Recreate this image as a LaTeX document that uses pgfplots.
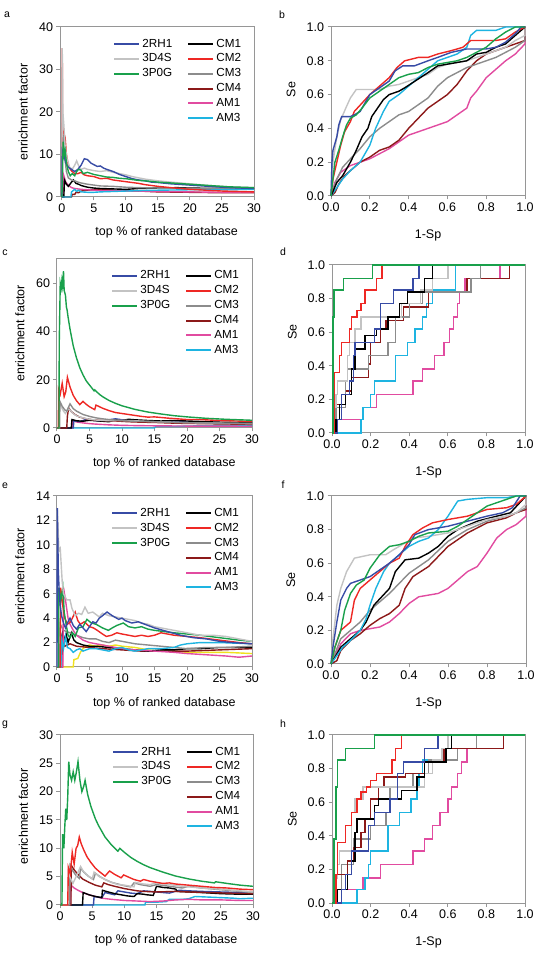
\documentclass[border=0pt]{standalone}
\usepackage{pgfplots}
\pgfplotsset{compat=1.18}
\usepackage{fontspec}
\setmainfont{Liberation Sans}
\definecolor{c2rh1}{RGB}{55,75,165}
\definecolor{c3d4s}{RGB}{195,195,195}
\definecolor{c3p0g}{RGB}{25,160,75}
\definecolor{ccm1}{RGB}{0,0,0}
\definecolor{ccm2}{RGB}{238,40,36}
\definecolor{ccm3}{RGB}{140,140,140}
\definecolor{ccm4}{RGB}{140,25,25}
\definecolor{cam1}{RGB}{225,75,160}
\definecolor{cam3}{RGB}{30,180,225}
\definecolor{cyel}{RGB}{240,225,30}
\definecolor{axgray}{RGB}{150,150,150}
\tikzset{
 s2rh1/.style={draw=c2rh1,line width=1.4pt},
 s3d4s/.style={draw=c3d4s,line width=1.4pt},
 s3p0g/.style={draw=c3p0g,line width=1.4pt},
 scm1/.style={draw=ccm1,line width=1.4pt},
 scm2/.style={draw=ccm2,line width=1.4pt},
 scm3/.style={draw=ccm3,line width=1.4pt},
 scm4/.style={draw=ccm4,line width=1.4pt},
 sam1/.style={draw=cam1,line width=1.4pt},
 sam3/.style={draw=cam3,line width=1.4pt},
 syel/.style={draw=cyel,line width=1.4pt},
}
\pgfplotsset{
 base/.style={
  scale only axis, clip=false,
  axis line style={draw=axgray, line width=1pt},
  tick style={draw=axgray, line width=1pt},
  tick align=outside, major tick length=3.5pt,
  xtick pos=left, ytick pos=left,
  tick label style={font=\fontsize{12.5}{14}\selectfont, text=black},
  label style={font=\fontsize{12.5}{14}\selectfont},
  /pgf/number format/assume math mode=true,
 },
 ef/.style={base, xmin=0, xmax=30, ymin=0, xtick={0,5,10,15,20,25,30},
  xlabel={top \% of ranked database}, ylabel={enrichment factor},
  x label style={at={(axis description cs:0.55,-0.21)}, anchor=center},
  y label style={at={(axis description cs:-0.19,0.5)}, anchor=center},
  legend columns=2, legend cell align=left,
  legend style={draw=none, fill=none, at={(rel axis cs:0.96,0.955)}, anchor=north east,
   font=\fontsize{11.7}{13}\selectfont, row sep=1.3pt,
   /tikz/every even column/.append style={column sep=13pt}},
  legend image code/.code={\draw[##1, line width=2pt] (0pt,0pt) -- (25pt,0pt);},
 },
 roc/.style={base, xmin=0, xmax=1, ymin=0, ymax=1,
  xtick={0,0.2,0.4,0.6,0.8,1}, ytick={0,0.2,0.4,0.6,0.8,1},
  xticklabel style={/pgf/number format/fixed, /pgf/number format/fixed zerofill, /pgf/number format/precision=1},
  yticklabel style={/pgf/number format/fixed, /pgf/number format/fixed zerofill, /pgf/number format/precision=1},
  xlabel={1-Sp}, ylabel={Se},
  x label style={at={(axis description cs:0.5,-0.235)}, anchor=center},
  y label style={at={(axis description cs:-0.206,0.5)}, anchor=center},
 },
}
\newcommand{\eflegend}{%
 \addlegendimage{s2rh1}\addlegendentry{2RH1}
 \addlegendimage{scm1}\addlegendentry{CM1}
 \addlegendimage{s3d4s}\addlegendentry{3D4S}
 \addlegendimage{scm2}\addlegendentry{CM2}
 \addlegendimage{s3p0g}\addlegendentry{3P0G}
 \addlegendimage{scm3}\addlegendentry{CM3}
 \addlegendimage{empty legend}\addlegendentry{}
 \addlegendimage{scm4}\addlegendentry{CM4}
 \addlegendimage{empty legend}\addlegendentry{}
 \addlegendimage{sam1}\addlegendentry{AM1}
 \addlegendimage{empty legend}\addlegendentry{}
 \addlegendimage{sam3}\addlegendentry{AM3}
}
\begin{document}
\begin{tikzpicture}
\useasboundingbox (0pt,0pt) rectangle (550pt,953pt);
\foreach \l/\x/\y in {a/7/938,b/282/938,c/5/700,d/283/701,e/5/467,f/283/468,g/5/228,h/283/229}
 \node[font=\fontsize{10.5}{12}\selectfont] at (\x pt,\y pt) {\l};

% ---------------- panel a ----------------
\begin{axis}[ef, at={(60pt,756pt)}, anchor=south west, width=194pt, height=170pt, xmin=-0.3, ymax=40, ytick={0,10,20,30,40}]
\addplot[scm4,forget plot] coordinates {(0,0) (1.5,0) (1.6,0.6) (2,0.6) (2.2,1.1) (2.6,1) (3,1.4) (3.5,1.5) (4,1.6) (5,1.7) (6,1.8) (8,1.6) (10,1.5) (12,1.4) (15,1.2) (20,1.1) (25,1.0) (30,1.0)};
\addplot[sam1,forget plot] coordinates {(0,0) (0.2,0) (0.3,5) (0.6,3.5) (1,2.8) (1.5,2.2) (2,2) (3,1.8) (4,1.7) (5,1.6) (6,1.5) (8,1.5) (10,1.4) (12,1.4) (15,1.3) (20,1.2) (25,1.1) (30,1.1)};
\addplot[scm1,forget plot] coordinates {(0,0) (0.3,0) (0.4,4) (0.7,3) (1,2.5) (1.5,3.5) (1.8,4) (2.2,3.2) (2.6,3) (3,2.7) (4,2.3) (5,2.1) (6,2) (8,1.9) (10,1.8) (12,2) (15,2.1) (18,2.2) (20,2.1) (25,2) (30,1.9)};
\addplot[scm3,forget plot] coordinates {(0,0) (0.05,17.5) (0.2,14) (0.4,10) (0.7,6) (1,4.5) (1.5,4) (2,3.8) (2.5,3.5) (3,3.3) (4,3) (5,2.8) (6,2.6) (8,2.5) (10,2.3) (12,2.2) (15,2.1) (20,2.0) (25,1.9) (30,1.9)};
\addplot[sam3,forget plot] coordinates {(0,0) (1.4,0) (1.5,1.2) (2,1.8) (2.3,1.3) (2.6,1.6) (3,1.2) (4,1.1) (5,1.1) (6,1.2) (8,1.3) (10,1.4) (12,1.5) (15,1.6) (20,1.7) (25,1.7) (30,1.8)};
\addplot[scm2,forget plot] coordinates {(0,0) (0.05,35) (0.1,16) (0.3,15) (0.5,14) (0.7,10) (1,7.5) (1.3,6.5) (1.6,6) (2,5.5) (2.5,5.5) (3,5.8) (3.5,5.2) (4,5) (5,4.8) (6,4.3) (7,4.4) (8,4) (9,3.8) (10,3.6) (11,3.4) (12,3.2) (13,2.9) (15,2.5) (17,2.2) (20,1.8) (25,1.4) (30,1.2)};
\addplot[s3d4s,forget plot] coordinates {(0,0) (0.05,35) (0.15,20) (0.3,17) (0.5,12) (0.8,9) (1.2,7) (1.6,6.5) (2,7.5) (2.3,8.5) (2.7,7) (3,6.5) (3.5,6.8) (4,6.5) (5,6.2) (6,6) (7,6.2) (8,5.8) (9,5.5) (10,5.2) (11,4.8) (12,4.5) (13,4.2) (15,3.8) (17,3.5) (20,3.1) (23,2.7) (26,2.4) (30,2.2)};
\addplot[s2rh1,forget plot] coordinates {(0,0) (0.05,11) (0.3,10) (0.6,8) (1,7) (1.5,6.5) (2,6) (2.5,6.5) (3,7.5) (3.5,9) (4,8.8) (4.5,8) (5,7.6) (5.5,7.2) (6,7.3) (6.5,6.8) (7,6.5) (8,6) (9,5.3) (10,4.8) (11,4.3) (12,4) (13,3.8) (14,3.5) (15,3.4) (17,3.1) (20,2.8) (22,2.6) (25,2.3) (28,2.1) (30,2.0)};
\addplot[s3p0g,forget plot] coordinates {(0,0) (0.1,6) (0.2,13) (0.35,10) (0.5,11) (0.7,8) (1,6) (1.3,5) (1.6,5.5) (2,5) (2.3,6) (2.6,6.5) (3,6.3) (3.3,5.5) (4,5.8) (5,5.3) (6,5) (7,4.7) (8,4.6) (9,4.4) (10,4.3) (11,4.1) (12,3.9) (13,3.8) (15,3.5) (17,3.3) (20,3.0) (23,2.7) (26,2.4) (30,2.2)};
\eflegend
\end{axis}

% ---------------- panel b ----------------
\begin{axis}[roc, at={(331pt,757pt)}, anchor=south west, width=194pt, height=169pt,
 y label style={at={(axis description cs:-0.206,0.63)}}]
\addplot[sam1] coordinates {(0,0) (0.02,0.08) (0.05,0.14) (0.1,0.18) (0.15,0.2) (0.2,0.22) (0.25,0.25) (0.3,0.28) (0.35,0.32) (0.4,0.36) (0.45,0.38) (0.5,0.4) (0.55,0.42) (0.6,0.44) (0.65,0.48) (0.7,0.52) (0.72,0.58) (0.75,0.62) (0.8,0.7) (0.85,0.75) (0.9,0.8) (0.95,0.84) (1,0.9) (1,1)};
\addplot[scm4] coordinates {(0,0) (0.02,0.02) (0.04,0.07) (0.07,0.12) (0.1,0.15) (0.15,0.2) (0.2,0.23) (0.25,0.27) (0.3,0.29) (0.35,0.33) (0.4,0.4) (0.45,0.46) (0.5,0.52) (0.55,0.56) (0.6,0.6) (0.65,0.66) (0.7,0.74) (0.75,0.8) (0.8,0.84) (0.85,0.86) (0.9,0.88) (0.95,0.9) (1,0.92) (1,1)};
\addplot[scm3] coordinates {(0,0) (0.03,0.1) (0.06,0.17) (0.1,0.22) (0.15,0.28) (0.2,0.35) (0.25,0.4) (0.3,0.44) (0.35,0.48) (0.4,0.5) (0.45,0.54) (0.5,0.58) (0.55,0.65) (0.6,0.7) (0.65,0.73) (0.7,0.76) (0.75,0.78) (0.8,0.8) (0.85,0.82) (0.9,0.85) (0.95,0.88) (1,0.92) (1,1)};
\addplot[s3d4s] coordinates {(0,0) (0.01,0.2) (0.03,0.35) (0.05,0.45) (0.08,0.53) (0.1,0.58) (0.13,0.63) (0.2,0.63) (0.25,0.63) (0.3,0.65) (0.35,0.66) (0.4,0.68) (0.45,0.7) (0.5,0.72) (0.55,0.76) (0.6,0.78) (0.7,0.8) (0.8,0.84) (0.9,0.88) (0.95,0.92) (1,0.95) (1,1)};
\addplot[sam3] coordinates {(0,0) (0.03,0.05) (0.06,0.1) (0.1,0.15) (0.15,0.2) (0.2,0.3) (0.23,0.4) (0.27,0.5) (0.3,0.56) (0.35,0.6) (0.4,0.65) (0.45,0.7) (0.5,0.75) (0.55,0.8) (0.6,0.82) (0.65,0.84) (0.7,0.88) (0.72,0.95) (0.75,0.98) (0.85,0.98) (0.9,1) (1,1)};
\addplot[scm1] coordinates {(0,0) (0.03,0.08) (0.06,0.12) (0.1,0.2) (0.13,0.27) (0.16,0.35) (0.19,0.4) (0.21,0.47) (0.24,0.52) (0.27,0.57) (0.3,0.6) (0.35,0.62) (0.38,0.64) (0.42,0.67) (0.46,0.7) (0.5,0.73) (0.55,0.77) (0.6,0.78) (0.7,0.8) (0.75,0.84) (0.8,0.85) (0.85,0.88) (0.9,0.9) (0.95,0.95) (1,1)};
\addplot[scm2] coordinates {(0,0) (0.01,0.1) (0.03,0.2) (0.05,0.3) (0.07,0.38) (0.1,0.44) (0.12,0.5) (0.16,0.55) (0.2,0.6) (0.25,0.65) (0.3,0.7) (0.34,0.76) (0.38,0.8) (0.45,0.82) (0.5,0.82) (0.55,0.84) (0.62,0.86) (0.68,0.88) (0.72,0.92) (0.85,0.92) (0.9,0.93) (0.95,0.97) (1,1)};
\addplot[s2rh1] coordinates {(0,0) (0.005,0.2) (0.01,0.27) (0.03,0.35) (0.04,0.42) (0.055,0.47) (0.1,0.47) (0.12,0.48) (0.15,0.5) (0.18,0.56) (0.2,0.6) (0.25,0.64) (0.3,0.68) (0.33,0.74) (0.37,0.77) (0.43,0.77) (0.5,0.8) (0.55,0.82) (0.62,0.85) (0.7,0.87) (0.8,0.87) (0.85,0.88) (0.9,0.91) (0.95,0.96) (0.98,1) (1,1)};
\addplot[s3p0g] coordinates {(0,0) (0.01,0.1) (0.02,0.2) (0.04,0.27) (0.06,0.35) (0.08,0.42) (0.1,0.46) (0.13,0.48) (0.16,0.52) (0.2,0.58) (0.25,0.62) (0.3,0.66) (0.35,0.7) (0.4,0.72) (0.45,0.73) (0.5,0.76) (0.55,0.78) (0.6,0.79) (0.65,0.8) (0.7,0.82) (0.75,0.85) (0.8,0.88) (0.85,0.93) (0.9,0.97) (0.95,1) (1,1)};
\end{axis}

% ---------------- panel c ----------------
\begin{axis}[ef, at={(57pt,525pt)}, anchor=south west, width=195pt, height=169pt, ymax=70, ytick={0,20,40,60},
 y label style={at={(axis description cs:-0.19,0.56)}}]
\addplot[sam3,forget plot] coordinates {(0,0) (15,0) (15.2,0.6) (18,0.6) (20,0.8) (22,0.9) (25,1.1) (28,1.2) (30,1.2)};
\addplot[sam1,forget plot] coordinates {(0,0) (2.3,0) (2.4,3) (3,2.5) (4,2.1) (5,1.8) (6,1.6) (8,1.3) (10,1.1) (12,1) (15,0.9) (20,0.8) (25,0.8) (30,0.7)};
\addplot[s2rh1,forget plot] coordinates {(0,0) (2.5,0) (2.6,3) (3.5,2.6) (4.5,3.6) (5.5,3.2) (7,2.8) (8,3.4) (9,3.8) (10,3.4) (12,3) (15,2.6) (18,2.5) (20,2.6) (22,2.5) (25,2.3) (28,2.2) (30,2.1)};
\addplot[scm1,forget plot] coordinates {(0,0) (2.2,0) (2.3,3.5) (3,3) (4,2.8) (5,3.2) (6,3) (7,2.8) (8,2.6) (9,3.3) (10,3.1) (11,3.6) (12,3.4) (14,3.1) (16,2.9) (18,3.1) (20,2.9) (22,2.7) (25,2.4) (30,2.1)};
\addplot[scm4,forget plot] coordinates {(0,0) (1.5,0) (1.6,5) (1.8,8.3) (2.2,6.8) (2.8,5.5) (3.5,4.5) (4.5,3.8) (5.5,3.4) (7,3.1) (9,2.9) (11,2.6) (13,2.4) (15,2.3) (18,2.0) (20,1.9) (25,1.7) (30,1.5)};
\addplot[s3d4s,forget plot] coordinates {(0,0) (0.3,0) (0.35,10) (0.6,9) (1,7) (1.3,6) (1.8,8) (2.5,6) (3,5) (4,4.2) (5,3.6) (6,3.3) (8,3) (10,3.2) (12,3) (15,2.6) (20,2.2) (25,2) (30,1.8)};
\addplot[scm3,forget plot] coordinates {(0,0) (0.4,0) (0.45,11) (0.8,9) (1.2,7.5) (1.5,7) (2,10) (2.5,8) (3,7) (3.5,6.3) (4,5.6) (5,4.8) (6,4.2) (7,3.8) (8,3.5) (10,3) (12,2.8) (15,2.6) (20,2.2) (25,2.0) (30,1.9)};
\addplot[scm2,forget plot] coordinates {(0,0) (0.2,0) (0.25,16) (0.5,14) (0.8,18.5) (1.1,13) (1.35,15) (1.6,21) (2,17) (2.5,13.5) (3,11.3) (3.5,9.7) (4,11) (4.5,9.8) (5,8.8) (5.8,7.6) (6,9.5) (7,8.2) (8,7.2) (9,6.4) (10,6) (11,5.6) (12,5.2) (13,4.8) (14,4.5) (15,4.6) (17,4.1) (20,3.5) (22,3.5) (25,3.1) (30,2.7)};
\addplot[s3p0g,forget plot] coordinates {(0,0) (0.3,0) (0.35,36) (0.5,60) (0.65,58) (0.75,61) (0.85,59) (1.0,65) (1.1,57) (1.3,55) (1.45,50) (1.55,49) (1.7,46) (2,41) (2.5,34) (3,29) (3.5,25) (4,22) (4.5,19.5) (5,17.8) (5.7,15.4) (5.8,15.8) (6.5,14) (7,13) (8,11.4) (9,10.2) (10,9.2) (12,7.7) (14,6.6) (16,5.8) (18,5.1) (20,4.6) (23,4.0) (26,3.6) (30,3.2)};
\eflegend
\end{axis}

% ---------------- panel d ----------------
\begin{axis}[roc, at={(332pt,520pt)}, anchor=south west, width=193pt, height=168pt,
 y label style={at={(axis description cs:-0.206,0.6)}}]
\addplot[sam1,const plot] coordinates {(0,0) (0.01,0.08) (0.16,0.15) (0.23,0.23) (0.42,0.31) (0.47,0.38) (0.53,0.46) (0.58,0.54) (0.61,0.62) (0.63,0.69) (0.65,0.77) (0.66,0.84) (0.69,0.92) (0.87,1) (1,1)};
\addplot[sam3,const plot] coordinates {(0,0) (0.15,0.08) (0.16,0.15) (0.2,0.23) (0.22,0.31) (0.33,0.46) (0.39,0.54) (0.43,0.62) (0.47,0.69) (0.49,0.77) (0.52,0.85) (0.64,1) (1,1)};
\addplot[scm4,const plot] coordinates {(0,0) (0.01,0.17) (0.07,0.25) (0.1,0.33) (0.19,0.41) (0.2,0.54) (0.25,0.62) (0.28,0.67) (0.37,0.75) (0.5,0.84) (0.7,0.92) (0.92,1) (1,1)};
\addplot[scm3,const plot] coordinates {(0,0) (0.02,0.15) (0.07,0.31) (0.08,0.38) (0.19,0.46) (0.29,0.54) (0.33,0.69) (0.4,0.77) (0.47,0.84) (0.72,0.92) (0.77,1) (1,1)};
\addplot[s3d4s,const plot] coordinates {(0,0) (0.01,0.15) (0.02,0.23) (0.03,0.31) (0.08,0.46) (0.09,0.54) (0.12,0.62) (0.15,0.69) (0.36,0.77) (0.46,0.85) (0.52,0.92) (0.6,1) (1,1)};
\addplot[scm1,const plot] coordinates {(0,0) (0.02,0.08) (0.04,0.17) (0.07,0.23) (0.1,0.38) (0.12,0.5) (0.17,0.58) (0.23,0.62) (0.29,0.69) (0.35,0.77) (0.39,0.84) (0.48,0.92) (0.52,1) (1,1)};
\addplot[s2rh1,const plot] coordinates {(0,0) (0.03,0.08) (0.05,0.23) (0.09,0.31) (0.11,0.46) (0.12,0.54) (0.22,0.62) (0.25,0.77) (0.32,0.85) (0.42,0.92) (0.45,1) (1,1)};
\addplot[scm2,const plot] coordinates {(0,0) (0.01,0.36) (0.04,0.46) (0.05,0.54) (0.09,0.62) (0.1,0.69) (0.13,0.73) (0.15,0.77) (0.17,0.85) (0.23,0.92) (0.26,1) (1,1)};
\addplot[s3p0g,const plot] coordinates {(0,0) (0.005,0.69) (0.01,0.85) (0.06,0.92) (0.21,1) (1,1)};
\end{axis}

% ---------------- panel e ----------------
\begin{axis}[ef, at={(57pt,286pt)}, anchor=south west, width=195pt, height=171pt, ymax=14, ytick={0,2,4,6,8,10,12,14},
 y label style={at={(axis description cs:-0.19,0.53)}}]
\addplot[syel,forget plot] coordinates {(0,0) (2.5,0) (2.6,0.6) (3.2,0.7) (3.6,1.2) (4,1.5) (4.5,1.7) (5,1.8) (6,1.7) (7,1.8) (8,1.7) (9,1.8) (10,1.7) (12,1.6) (14,1.4) (16,1.3) (18,1.3) (20,1.2) (23,1.2) (26,1.2) (30,1.1)};
\addplot[scm4,forget plot] coordinates {(0,0) (0.8,0) (0.9,2.5) (1.2,1.7) (2,1.9) (3,1.7) (5,1.6) (7,1.5) (10,1.4) (13,1.3) (16,1.3) (20,1.3) (25,1.4) (30,1.5)};
\addplot[scm1,forget plot] coordinates {(0,0) (0.5,0) (0.6,2.2) (0.9,2.9) (1.1,2.1) (1.4,2.7) (1.7,2.0) (2.2,2.8) (2.6,2.2) (3,2.0) (4,1.8) (5,1.7) (6,1.7) (8,1.6) (10,1.5) (12,1.4) (14,1.3) (16,1.4) (18,1.4) (20,1.5) (22,1.5) (25,1.6) (28,1.6) (30,1.6)};
\addplot[scm3,forget plot] coordinates {(0,0) (0.4,0) (0.5,3.5) (1,3) (2,2.8) (3,2.6) (4,2.4) (5,2.3) (6,2.3) (7,2.1) (8,2.0) (9,2.2) (10,2.1) (12,1.9) (14,1.8) (16,1.7) (18,1.6) (20,1.5) (23,1.6) (26,1.6) (30,1.7)};
\addplot[sam1,forget plot] coordinates {(0,0) (0.9,0) (1.0,6.5) (1.3,5.5) (1.7,4) (2,3.5) (2.5,3) (3,2.6) (3.5,2.4) (4,2.2) (5,2) (6,1.9) (7,1.8) (8,1.7) (9,1.6) (10,1.5) (12,1.4) (15,1.3) (18,1.2) (20,1.1) (23,1.0) (26,0.9) (28,0.8) (30,0.9)};
\addplot[sam3,forget plot] coordinates {(0,0) (0.6,0) (0.7,2.3) (1,1.5) (1.3,2.5) (1.6,1.6) (2,1.5) (2.5,1.2) (3,1.4) (3.5,1.5) (4,1.3) (5,1.5) (6,1.5) (7,1.4) (8,1.3) (9,1.5) (10,1.6) (11,1.4) (12,1.3) (14,1.5) (16,1.5) (18,1.6) (19,1.8) (20,1.9) (22,2.0) (25,2.0) (30,1.9)};
\addplot[scm2,forget plot] coordinates {(0,0) (0.5,0) (0.55,6.5) (0.9,5) (1.2,4) (1.6,3.5) (2.1,3.7) (2.8,4.5) (3.2,3.8) (3.6,3.5) (4.2,3.7) (5,3.3) (5.6,3.2) (6.2,3.0) (7,2.7) (7.6,2.5) (8.4,2.6) (9.2,2.8) (10,2.7) (11,2.6) (12,2.5) (13,2.6) (14,2.5) (15,2.6) (16,2.8) (17,2.7) (18,2.6) (20,2.5) (22,2.4) (25,2.2) (28,2.0) (30,1.9)};
\addplot[s3p0g,forget plot] coordinates {(0,0) (0.2,0) (0.3,6.5) (0.6,5.5) (0.9,6.5) (1.1,4.5) (1.4,3.5) (1.7,2.6) (2,2.4) (2.4,2.8) (2.8,2.5) (3.3,3.2) (4,3.3) (4.6,3.9) (5.3,3.6) (6,3.5) (7,3.2) (7.9,3.0) (8.5,3.2) (9.2,3.4) (10.2,3.6) (11,3.3) (12,3.2) (13,3.3) (14,3.1) (15,3.0) (16.5,2.9) (18,2.8) (20,2.7) (22,2.6) (25,2.4) (28,2.2) (30,2.1)};
\addplot[s3d4s,forget plot] coordinates {(0,0) (0.05,12.8) (0.3,9.5) (0.5,9.7) (0.8,7) (1,6) (1.5,5.5) (2,5.5) (2.3,4.8) (2.8,4.2) (3.3,4.4) (3.8,4.3) (4.3,4.9) (4.8,4.4) (5.5,4.5) (6.5,4.1) (7,4.4) (8,4.2) (9,4.1) (10,4) (11,3.9) (12,3.8) (13,3.6) (14,3.5) (15,3.3) (17,3.1) (20,2.8) (22,2.6) (24,2.6) (26,2.5) (28,2.3) (30,2.1)};
\addplot[s2rh1,forget plot] coordinates {(0,0) (0.05,13) (0.2,8) (0.35,6) (0.5,5) (0.7,4.2) (1,3.6) (1.3,3.2) (1.6,3.6) (2,4) (2.5,3.4) (3,3.1) (3.5,3.5) (4.5,2.9) (5,3.3) (5.5,3.7) (6,3.6) (6.5,4) (7,4.2) (7.7,4.5) (8.5,4.2) (9.5,3.9) (10,4) (10.5,3.8) (11.5,3.6) (12.5,3.7) (13.5,3.5) (15,3.2) (17,2.9) (19,2.6) (21,2.4) (23,2.3) (25,2.1) (27,2.0) (30,1.9)};
\eflegend
\end{axis}

% ---------------- panel f ----------------
\begin{axis}[roc, at={(331pt,289pt)}, anchor=south west, width=195pt, height=168pt]
\addplot[sam1] coordinates {(0,0) (0.02,0.05) (0.05,0.12) (0.1,0.18) (0.15,0.2) (0.25,0.22) (0.3,0.25) (0.35,0.3) (0.4,0.36) (0.45,0.4) (0.55,0.42) (0.6,0.45) (0.65,0.5) (0.7,0.55) (0.75,0.58) (0.8,0.66) (0.85,0.75) (0.9,0.8) (0.95,0.83) (1,0.88) (1,1)};
\addplot[scm4] coordinates {(0,0) (0.03,0.02) (0.05,0.08) (0.1,0.14) (0.15,0.18) (0.2,0.23) (0.25,0.27) (0.3,0.3) (0.35,0.35) (0.38,0.45) (0.42,0.52) (0.5,0.58) (0.55,0.64) (0.6,0.7) (0.7,0.78) (0.8,0.84) (0.9,0.87) (0.95,0.9) (1,0.92) (1,1)};
\addplot[scm3] coordinates {(0,0) (0.05,0.15) (0.1,0.2) (0.15,0.25) (0.2,0.32) (0.25,0.37) (0.3,0.42) (0.35,0.48) (0.4,0.54) (0.5,0.62) (0.6,0.73) (0.7,0.8) (0.8,0.85) (0.9,0.88) (0.95,0.9) (1,0.93) (1,1)};
\addplot[scm1] coordinates {(0,0) (0.05,0.1) (0.1,0.15) (0.15,0.2) (0.18,0.25) (0.22,0.35) (0.26,0.4) (0.3,0.45) (0.33,0.55) (0.38,0.62) (0.45,0.63) (0.5,0.66) (0.55,0.7) (0.6,0.76) (0.65,0.8) (0.75,0.85) (0.85,0.88) (0.92,0.9) (0.96,0.95) (1,1)};
\addplot[s3d4s] coordinates {(0,0) (0.01,0.15) (0.03,0.35) (0.05,0.45) (0.08,0.55) (0.12,0.63) (0.2,0.65) (0.28,0.65) (0.32,0.68) (0.38,0.72) (0.42,0.75) (0.5,0.76) (0.6,0.78) (0.7,0.82) (0.8,0.86) (0.9,0.88) (0.95,0.9) (1,0.95) (1,1)};
\addplot[sam3] coordinates {(0,0) (0.03,0.05) (0.06,0.1) (0.1,0.14) (0.15,0.2) (0.18,0.27) (0.2,0.35) (0.23,0.45) (0.27,0.55) (0.3,0.6) (0.35,0.65) (0.4,0.7) (0.45,0.73) (0.5,0.75) (0.55,0.8) (0.6,0.88) (0.65,0.97) (0.7,0.98) (0.8,0.99) (0.9,0.99) (0.95,1) (1,1)};
\addplot[scm2] coordinates {(0,0) (0.02,0.1) (0.05,0.2) (0.1,0.25) (0.12,0.38) (0.15,0.45) (0.2,0.5) (0.25,0.55) (0.3,0.6) (0.35,0.63) (0.38,0.7) (0.42,0.77) (0.47,0.81) (0.52,0.84) (0.6,0.86) (0.7,0.88) (0.8,0.92) (0.9,0.93) (0.95,0.95) (1,1)};
\addplot[s2rh1] coordinates {(0,0) (0.01,0.1) (0.03,0.25) (0.05,0.38) (0.08,0.45) (0.1,0.48) (0.15,0.5) (0.2,0.52) (0.25,0.56) (0.3,0.6) (0.35,0.65) (0.4,0.71) (0.43,0.77) (0.5,0.8) (0.6,0.82) (0.7,0.85) (0.8,0.88) (0.88,0.9) (0.93,0.93) (0.97,1) (1,1)};
\addplot[s3p0g] coordinates {(0,0) (0.02,0.1) (0.05,0.2) (0.07,0.32) (0.1,0.42) (0.13,0.47) (0.17,0.5) (0.2,0.57) (0.25,0.65) (0.3,0.7) (0.35,0.71) (0.4,0.73) (0.45,0.76) (0.5,0.78) (0.6,0.79) (0.65,0.82) (0.7,0.86) (0.75,0.9) (0.8,0.94) (0.9,0.98) (0.95,1) (1,1)};
\end{axis}

% ---------------- panel g ----------------
\begin{axis}[ef, at={(60pt,48pt)}, anchor=south west, width=193pt, height=170pt, ymax=30, ytick={0,5,10,15,20,25,30},
 y label style={at={(axis description cs:-0.19,0.52)}}]
\addplot[sam3,forget plot] coordinates {(0,0) (13.2,0) (13.3,0.5) (15,0.5) (16.5,0.6) (17,1.0) (19,1.0) (20,1.1) (21,1.5) (23,1.4) (25,1.3) (27,1.2) (28,1.1) (30,1.2)};
\addplot[sam1,forget plot] coordinates {(0,0) (1.6,0) (1.7,3.5) (2.2,3.0) (2.8,2.6) (3.5,2.2) (4.5,1.8) (5.5,1.5) (6.5,1.2) (8,1.0) (10,0.8) (12,0.7) (14,0.6) (16,0.7) (18,0.9) (20,1.0) (22,0.9) (25,0.9) (28,0.8) (30,0.8)};
\addplot[s2rh1,forget plot] coordinates {(0,0) (5.2,0) (5.3,1.5) (6.5,1.3) (7,2.2) (8.5,1.8) (9,2.5) (10,2.3) (11,2.1) (12,2.0) (13,2.5) (14,2.4) (15,2.3) (17,2.1) (18.5,2.6) (20,2.5) (22,2.4) (25,2.3) (28,2.2) (30,2.1)};
\addplot[scm1,forget plot] coordinates {(0,0) (3.5,0) (3.6,2.2) (4.5,1.8) (5.5,1.5) (6.5,1.3) (6.6,2.6) (7.5,2.3) (8.5,2.0) (9.5,1.8) (10.5,1.6) (11.5,1.5) (12,2.0) (13,1.9) (13.5,1.8) (14.5,1.7) (15,3.3) (16,3.1) (17,3.0) (18,2.8) (18.2,2.4) (20,2.3) (22,2.2) (25,2.0) (28,1.9) (30,1.9)};
\addplot[scm4,forget plot] coordinates {(0,0) (1.7,0) (1.75,7) (2.2,6.2) (2.8,5.4) (3.5,4.6) (4.5,4) (5.5,3.5) (6.5,3.2) (6.8,3.9) (7.5,3.6) (8.5,3.3) (10,2.9) (11,2.7) (12,2.5) (13,2.4) (15,2.3) (18,2.4) (20,2.3) (23,2.2) (26,2.1) (30,2.0)};
\addplot[scm3,forget plot] coordinates {(0,0) (1.5,0) (1.55,7) (2,6) (2.5,5.2) (3,4.7) (3.2,6.5) (3.7,5.8) (4.5,5) (5.2,4.5) (5.5,5.6) (6.2,5) (7,4.5) (8,4) (9,3.7) (10,3.4) (11,3.2) (11.5,3.9) (12.5,3.6) (14,3.3) (15,3.6) (17,3.3) (19,3.0) (20,3.3) (22,3.0) (25,2.7) (28,2.4) (30,2.2)};
\addplot[s3d4s,forget plot] coordinates {(0,0) (1.2,0) (1.3,5.7) (1.6,4.8) (2,3.8) (2.3,4.5) (2.7,5.5) (3.2,6.8) (3.6,6) (4.2,5.3) (5,4.6) (5.3,5.8) (6,5.1) (7,4.5) (8,4) (9,3.6) (10,3.5) (11.5,3.2) (11.7,4) (13,3.7) (14,3.6) (15,3.9) (17,3.6) (19,3.3) (20,3.2) (22,3.0) (25,2.8) (28,2.5) (30,2.3)};
\addplot[scm2,forget plot] coordinates {(0,0) (1.2,0) (1.3,6.6) (1.6,5.5) (1.9,9.3) (2.2,7.2) (2.5,10) (2.75,10.5) (3.0,12) (3.3,10.8) (3.7,9.7) (4.2,8.5) (4.8,7.5) (5.5,6.5) (6,6) (7,5.1) (7.7,6) (8.5,5.4) (9.5,4.8) (9.9,5.3) (10.5,5) (11.5,4.5) (12.5,4.2) (13,4.5) (14,4.2) (15,4.0) (16,3.8) (17,3.9) (18,3.7) (20,3.5) (22,3.3) (24,3.1) (26,3.0) (28,2.8) (30,2.7)};
\addplot[s3p0g,forget plot] coordinates {(0,0) (0.3,0) (0.4,12.5) (0.6,10) (0.75,14) (0.9,17) (1.05,15) (1.2,19) (1.36,25.3) (1.55,23) (1.8,22) (2.05,23.5) (2.3,22) (2.55,23.5) (2.8,25.3) (3.1,22) (3.4,20) (3.7,21) (3.9,22) (4.3,19.5) (4.8,17.4) (5.5,15.2) (6,14) (7,12) (8,10.6) (9,9.5) (9.3,10) (10,9.3) (11,8.4) (12,7.7) (13,7.1) (14,6.6) (15,6.2) (16,5.8) (18,5.1) (20,4.6) (22,4.2) (24,3.9) (24.2,4.1) (26,3.8) (28,3.5) (30,3.3)};
\eflegend
\end{axis}

% ---------------- panel h ----------------
\begin{axis}[roc, at={(332pt,50pt)}, anchor=south west, width=193pt, height=168pt]
\addplot[sam1,const plot] coordinates {(0,0) (0.01,0.08) (0.16,0.15) (0.25,0.23) (0.42,0.31) (0.48,0.38) (0.52,0.46) (0.56,0.54) (0.6,0.62) (0.62,0.69) (0.65,0.77) (0.67,0.84) (0.7,0.92) (0.89,1) (1,1)};
\addplot[sam3,const plot] coordinates {(0,0) (0.13,0.08) (0.17,0.15) (0.19,0.23) (0.2,0.31) (0.29,0.46) (0.35,0.54) (0.41,0.62) (0.44,0.69) (0.45,0.77) (0.47,0.85) (0.58,0.92) (0.6,1) (1,1)};
\addplot[scm3,const plot] coordinates {(0,0) (0.02,0.08) (0.05,0.23) (0.11,0.38) (0.2,0.46) (0.28,0.54) (0.3,0.69) (0.42,0.77) (0.5,0.85) (0.65,0.92) (0.75,1) (1,1)};
\addplot[scm4,const plot] coordinates {(0,0) (0.01,0.17) (0.08,0.25) (0.11,0.33) (0.15,0.42) (0.17,0.5) (0.2,0.62) (0.24,0.69) (0.27,0.75) (0.38,0.77) (0.48,0.84) (0.58,0.92) (0.89,1) (1,1)};
\addplot[s3d4s,const plot] coordinates {(0,0) (0.02,0.15) (0.03,0.23) (0.04,0.31) (0.1,0.54) (0.12,0.62) (0.16,0.69) (0.48,0.77) (0.52,0.85) (0.57,0.92) (0.6,1) (1,1)};
\addplot[scm1,const plot] coordinates {(0,0) (0.03,0.08) (0.08,0.17) (0.1,0.25) (0.12,0.42) (0.13,0.5) (0.22,0.58) (0.24,0.62) (0.36,0.67) (0.44,0.75) (0.48,0.84) (0.59,0.92) (0.62,1) (1,1)};
\addplot[s2rh1,const plot] coordinates {(0,0) (0.05,0.08) (0.07,0.17) (0.1,0.31) (0.19,0.46) (0.22,0.54) (0.3,0.62) (0.34,0.77) (0.37,0.84) (0.48,0.92) (0.55,1) (1,1)};
\addplot[scm2,const plot] coordinates {(0,0) (0.02,0.17) (0.03,0.36) (0.07,0.46) (0.1,0.54) (0.13,0.62) (0.15,0.66) (0.18,0.69) (0.2,0.73) (0.23,0.77) (0.31,0.85) (0.33,0.92) (0.36,1) (1,1)};
\addplot[s3p0g,const plot] coordinates {(0,0) (0.01,0.38) (0.02,0.69) (0.03,0.85) (0.07,0.92) (0.22,1) (1,1)};
\end{axis}
\end{tikzpicture}
\end{document}
